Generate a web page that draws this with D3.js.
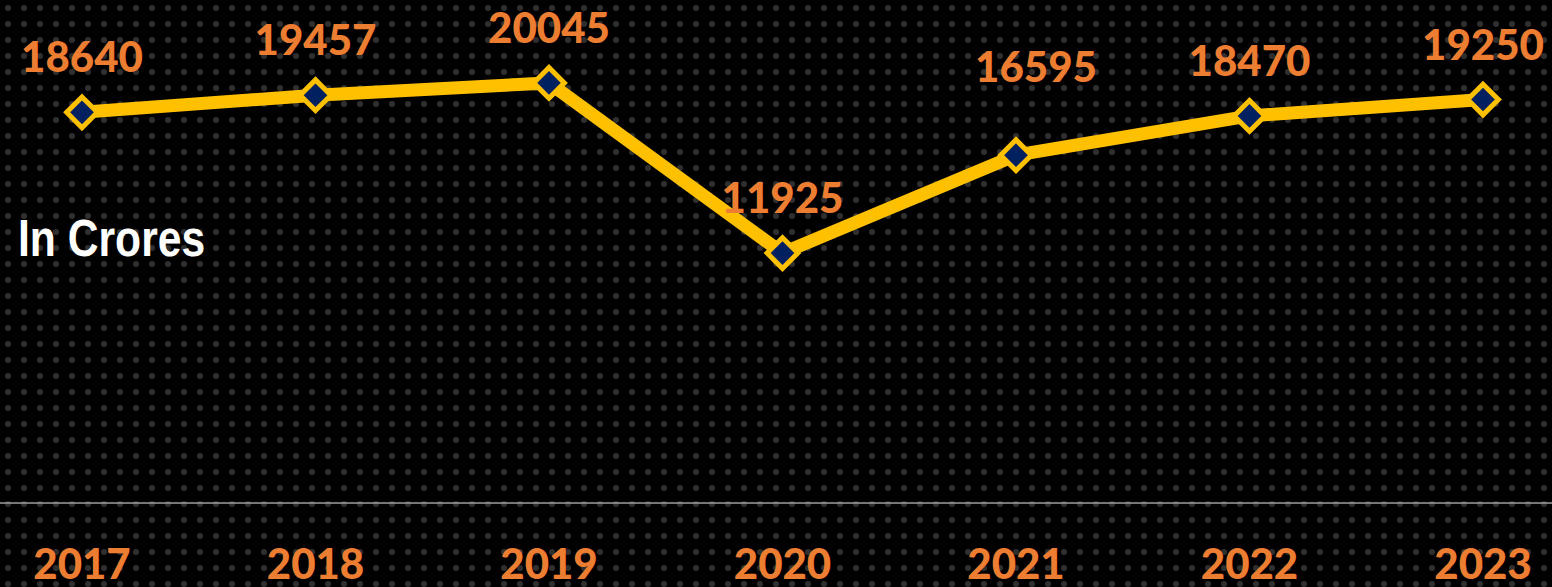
<!DOCTYPE html>
<html>
<head>
<meta charset="utf-8">
<script src="https://cdn.jsdelivr.net/npm/d3@7"></script>
<style>
  html, body { margin: 0; padding: 0; background: #000; overflow: hidden; }
  svg { display: block; }
</style>
</head>
<body>
<div id="chart"></div>
<script>
// chart values
const YEARS = ["2017", "2018", "2019", "2020", "2021", "2022", "2023"];
const VALUES = [18640, 19457, 20045, 11925, 16595, 18470, 19250];
const UNIT_LABEL = "In Crores";

// layout
const SVG_WIDTH = 1552;
const SVG_HEIGHT = 587;
const BASE_Y = 503;
const LABEL_NUDGE = {"2021": [20, -33]};   // label moved by hand in the original

const svg = d3.select("#chart").append("svg")
    .attr("width", SVG_WIDTH)
    .attr("height", SVG_HEIGHT);

// dotted backdrop
const defs = svg.append("defs");
const pat = defs.append("pattern")
    .attr("id", "dots")
    .attr("width", 16).attr("height", 16)
    .attr("patternUnits", "userSpaceOnUse");
pat.append("rect").attr("width", 16).attr("height", 16).attr("fill", "#000");
pat.append("circle").attr("cx", 8).attr("cy", 8).attr("r", 3).attr("fill", "#2f2f2f");

svg.append("rect").attr("width", SVG_WIDTH).attr("height", SVG_HEIGHT).attr("fill", "url(#dots)");

// scales
const x = d3.scalePoint().domain(YEARS).range([82, 1483]);
const y = d3.scaleLinear().domain([0, 24000]).range([BASE_Y, 0]);

const data = YEARS.map((yr, i) => ({year: yr, value: VALUES[i]}));

// baseline
svg.append("line")
    .attr("x1", 0).attr("x2", SVG_WIDTH)
    .attr("y1", y(0)).attr("y2", y(0))
    .attr("stroke", "#a0a0a0")
    .attr("stroke-width", 1.5);

// year labels
svg.append("g").selectAll("text")
    .data(YEARS)
    .enter()
    .append("text")
    .attr("x", d => x(d))
    .attr("y", 579)
    .attr("text-anchor", "middle")
    .style("font-family", "Lato, 'Open Sans', sans-serif")
    .style("font-weight", 900)
    .style("font-size", "42px")
    .attr("fill", "#ED7D31")
    .text(d => d);

// line
const line = d3.line().x(d => x(d.year)).y(d => y(d.value));
svg.append("path")
    .datum(data)
    .attr("d", line)
    .attr("fill", "none")
    .attr("stroke", "#FFC000")
    .attr("stroke-width", 13)
    .attr("stroke-linejoin", "miter");

// markers
svg.append("g").selectAll("path")
    .data(data)
    .enter()
    .append("path")
    .attr("d", d3.symbol().type(d3.symbolDiamond2).size(600))
    .attr("transform", d => `translate(${x(d.year)}, ${y(d.value)})`)
    .attr("fill", "#002060")
    .attr("stroke", "#FFC000")
    .attr("stroke-width", 5);

// value labels
svg.append("g").selectAll("text")
    .data(data)
    .enter()
    .append("text")
    .attr("x", d => x(d.year) + (LABEL_NUDGE[d.year] ? LABEL_NUDGE[d.year][0] : 0))
    .attr("y", d => y(d.value) - 40 + (LABEL_NUDGE[d.year] ? LABEL_NUDGE[d.year][1] : 0))
    .attr("text-anchor", "middle")
    .style("font-family", "Lato, 'Open Sans', sans-serif")
    .style("font-weight", 900)
    .style("font-size", "42px")
    .attr("fill", "#ED7D31")
    .text(d => d.value);

// unit note (narrow bold face, squeezed horizontally)
svg.append("text")
    .attr("transform", "translate(18, 256) scale(0.82, 1)")
    .style("font-family", "'Liberation Sans', Arial, sans-serif")
    .style("font-weight", "bold")
    .style("font-size", "52px")
    .attr("fill", "#fff")
    .text(UNIT_LABEL);
</script>
</body>
</html>
